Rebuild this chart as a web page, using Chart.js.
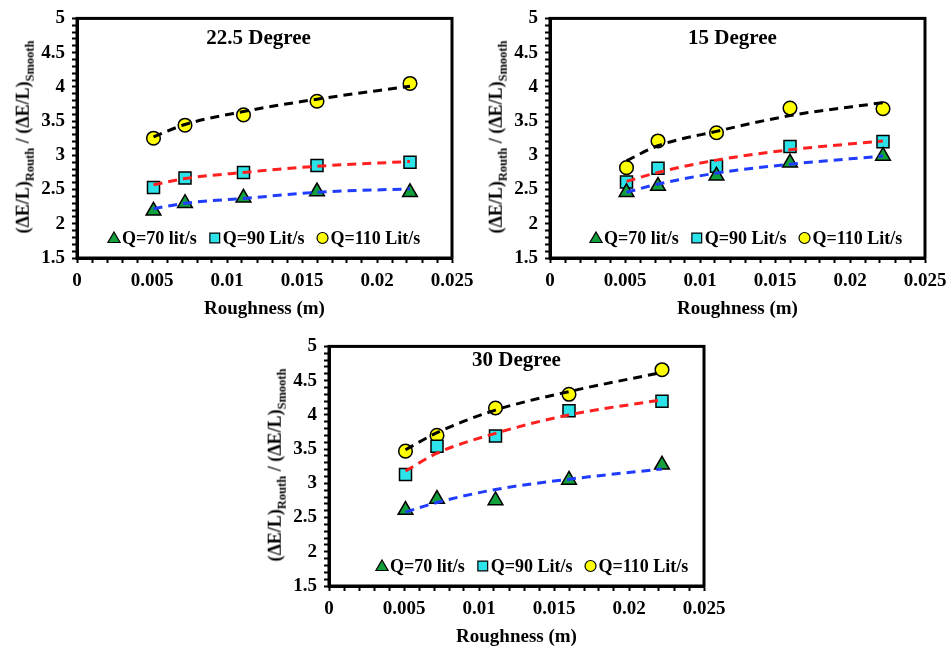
<!DOCTYPE html>
<html>
<head>
<meta charset="utf-8">
<script src="https://cdn.jsdelivr.net/npm/chart.js@4.4.1/dist/chart.umd.min.js"></script>
<style>
  html, body { margin: 0; padding: 0; background: #fff; width: 946px; height: 650px; overflow: hidden; position: relative; }
  .panel { position: absolute; }
  .panel canvas { position: absolute; left: 0; top: 0; }
  .ytitle {
    position: absolute; white-space: nowrap; color: #000;
    font: bold 18px 'Liberation Serif', serif;
    transform: translate(-50%, -50%) rotate(-90deg);
  }
  .ytitle sub { font-size: 12.5px; }
</style>
</head>
<body>

<script>
// Shared axis values
const roughness = [0.0051, 0.0072, 0.0111, 0.016, 0.0222];
const xTicks = [0, 0.005, 0.01, 0.015, 0.02, 0.025];
const yTicks = [1.5, 2, 2.5, 3, 3.5, 4, 4.5, 5];
const seriesNames = ['Q=70 lit/s', 'Q=90 Lit/s', 'Q=110 Lit/s'];

const q70_225 = [2.19, 2.30, 2.38, 2.47, 2.46];
const q90_225 = [2.53, 2.67, 2.75, 2.85, 2.90];
const q110_225 = [3.25, 3.44, 3.59, 3.79, 4.05];
const fit70_225 = [2.22, 2.30, 2.37, 2.46, 2.51];
const fit90_225 = [2.57, 2.66, 2.75, 2.84, 2.91];
const fit110_225 = [3.27, 3.45, 3.64, 3.82, 4.01];

// 15 degree
const q70_15 = [2.46, 2.55, 2.70, 2.89, 2.99];
const q90_15 = [2.61, 2.81, 2.84, 3.13, 3.20];
const q110_15 = [2.82, 3.21, 3.33, 3.69, 3.68];
const fit70_15 = [2.46, 2.58, 2.74, 2.87, 2.99];
const fit90_15 = [2.62, 2.75, 2.93, 3.08, 3.21];
const fit110_15 = [2.92, 3.14, 3.35, 3.58, 3.77];

// 30 degree
const q70_30 = [2.61, 2.77, 2.75, 3.05, 3.27];
const q90_30 = [3.13, 3.54, 3.69, 4.06, 4.20];
const q110_30 = [3.47, 3.70, 4.10, 4.30, 4.66];
const fit70_30 = [2.58, 2.72, 2.91, 3.06, 3.21];
const fit90_30 = [3.18, 3.44, 3.73, 4.00, 4.22];
const fit110_30 = [3.49, 3.74, 4.07, 4.34, 4.62];

const FONT = "'Liberation Serif', serif";
const markers = [
  { style: 'triangle', color: '#12a03c', radius: 8.5 },
  { style: 'rect', color: '#2de3ea', radius: 8.5 },
  { style: 'circle', color: '#ffff00', radius: 6.8 },
];
const fitColors = ['#1f3cff', '#ff1f1f', '#000000'];

// canvases are a bit wider than the page so the last x label never squeezes the plot
const panels = [
  { left: 0, top: 0, w: 490, h: 325, padRight: 38, title: '22.5 Degree', titleDx: -6, titleDy: 20, legendX: 37,
    points: [q70_225, q90_225, q110_225], fits: [fit70_225, fit90_225, fit110_225] },
  { left: 473, top: 0, w: 490, h: 325, padRight: 38, title: '15 Degree', titleDx: -5, titleDy: 20, legendX: 46,
    points: [q70_15, q90_15, q110_15], fits: [fit70_15, fit90_15, fit110_15] },
  { left: 252, top: 328, w: 490, h: 325, padRight: 38, title: '30 Degree', titleDx: 0, titleDy: 14, legendX: 53,
    points: [q70_30, q90_30, q110_30], fits: [fit70_30, fit90_30, fit110_30] },
];

const isTick = (list, v) => list.find(t => Math.abs(t - v) < 1e-9);

function drawMarker(ctx, style, x, y, r) {
  ctx.beginPath();
  if (style === 'triangle') {
    ctx.moveTo(x, y - r);
    ctx.lineTo(x + r * 0.87, y + r * 0.5);
    ctx.lineTo(x - r * 0.87, y + r * 0.5);
    ctx.closePath();
  } else if (style === 'rect') {
    ctx.rect(x - r * 0.7, y - r * 0.7, r * 1.4, r * 1.4);
  } else {
    ctx.arc(x, y, r, 0, Math.PI * 2);
  }
  ctx.fill();
  ctx.stroke();
}

// frame around the plot area, like the boxed Excel chart
const framePlugin = {
  id: 'frame',
  beforeDatasetsDraw(chart) {
    const { ctx, chartArea: a } = chart;
    ctx.save();
    ctx.strokeStyle = '#000';
    ctx.lineWidth = 3;
    ctx.strokeRect(a.left, a.top, a.right - a.left, a.bottom - a.top);
    ctx.restore();
  },
};

// panel title and in-plot legend
const annotPlugin = {
  id: 'annot',
  afterDraw(chart, args, opts) {
    const { ctx, chartArea: a } = chart;
    ctx.save();
    ctx.fillStyle = '#000';
    ctx.font = `bold 21px ${FONT}`;
    ctx.textAlign = 'center';
    ctx.textBaseline = 'middle';
    ctx.fillText(opts.title, (a.left + a.right) / 2 + opts.titleDx, a.top + opts.titleDy);

    ctx.font = `bold 18px ${FONT}`;
    ctx.textAlign = 'left';
    let x = a.left + opts.legendX;
    const y = a.bottom - 20;
    seriesNames.forEach((name, i) => {
      const m = markers[i];
      ctx.fillStyle = m.color;
      ctx.strokeStyle = '#000';
      ctx.lineWidth = 1.2;
      drawMarker(ctx, m.style, x, m.style === 'triangle' ? y + 1 : y, m.style === 'circle' ? 5.5 : 7);
      ctx.fillStyle = '#000';
      ctx.fillText(name, x + 8, y + 1);
      x += 8 + ctx.measureText(name).width + 18;
    });
    ctx.restore();
  },
};

panels.forEach(p => {
  const div = document.createElement('div');
  div.className = 'panel';
  div.style.cssText = `left:${p.left}px;top:${p.top}px;width:${p.w}px;height:${p.h}px`;
  div.innerHTML = `<canvas width="${p.w}" height="${p.h}"></canvas>
    <div class="ytitle" style="left:25px;top:137px">(&Delta;E/L)<sub>Routh</sub> / (&Delta;E/L)<sub>Smooth</sub></div>`;
  document.body.appendChild(div);

  const datasets = [];
  p.fits.forEach((fit, i) => {
    datasets.push({
      data: roughness.map((x, j) => ({ x, y: fit[j] })),
      showLine: true,
      borderColor: fitColors[i],
      borderWidth: 3,
      borderDash: [9, 6],
      pointRadius: 0,
      cubicInterpolationMode: 'monotone',
      order: 0,
    });
  });
  p.points.forEach((vals, i) => {
    datasets.push({
      data: roughness.map((x, j) => ({ x, y: vals[j] })),
      showLine: false,
      pointStyle: markers[i].style,
      pointRadius: markers[i].radius,
      backgroundColor: markers[i].color,
      borderColor: '#000',
      borderWidth: 1.5,
      order: 1,
    });
  });

  const tickGrid = {
    display: true, drawOnChartArea: false, drawTicks: true,
    tickLength: 5, tickWidth: 2, tickColor: '#000', color: '#000',
  };

  new Chart(div.querySelector('canvas'), {
    type: 'scatter',
    data: { datasets },
    options: {
      responsive: false,
      animation: false,
      clip: false,
      layout: { padding: { left: 0, top: 15, right: p.padRight, bottom: 0 } },
      plugins: {
        legend: { display: false },
        tooltip: { enabled: false },
        annot: { title: p.title, titleDx: p.titleDx, titleDy: p.titleDy, legendX: p.legendX },
      },
      scales: {
        x: {
          type: 'linear', min: 0, max: 0.025,
          afterFit: s => { s.height = 67; },
          border: { display: true, color: '#000', width: 3 },
          grid: tickGrid,
          ticks: {
            stepSize: 0.001, maxTicksLimit: 100, autoSkip: false, maxRotation: 0,
            padding: 7, color: '#000', font: { family: FONT, size: 19, weight: 'bold' },
            callback: v => { const t = isTick(xTicks, v); return t === undefined ? '' : String(t); },
          },
          title: {
            display: true, text: 'Roughness (m)', color: '#000',
            font: { family: FONT, size: 19, weight: 'bold' }, padding: { top: 0, bottom: 5 },
          },
        },
        y: {
          type: 'linear', min: 1.5, max: 5,
          afterFit: s => { s.width = 77; },
          border: { display: true, color: '#000', width: 3 },
          grid: tickGrid,
          ticks: {
            stepSize: 0.1, maxTicksLimit: 100, autoSkip: false,
            padding: 7, color: '#000', font: { family: FONT, size: 19, weight: 'bold' },
            callback: v => { const t = isTick(yTicks, v); return t === undefined ? '' : String(t); },
          },
        },
      },
    },
    plugins: [framePlugin, annotPlugin],
  });
});
</script>
</body>
</html>
